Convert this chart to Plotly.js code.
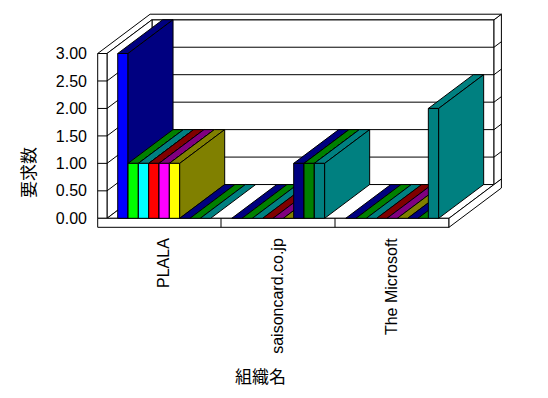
<!DOCTYPE html>
<html>
<head>
<meta charset="utf-8">
<script src="https://cdn.plot.ly/plotly-3.0.1.min.js"></script>
<style>html,body{margin:0;padding:0;background:#fff;}#chart{width:548px;height:398px;}</style>
</head>
<body>
<div id="chart"></div>
<script>
// ---- data ----
const categories = ["PLALA", "saisoncard.co.jp", "The Microsoft"];
const series1 = [3, 0, 0];
const series2 = [1, 0, 0];
const series3 = [1, 0, 0];
const series4 = [1, 0, 0];
const series5 = [1, 0, 0];
const series6 = [1, 0, 0];
const series7 = [0, 1, 0];
const series8 = [0, 1, 0];
const series9 = [0, 1, 2];
const yTickValues = [0, 0.5, 1, 1.5, 2, 2.5, 3];
const yTickLabels = ["0.00", "0.50", "1.00", "1.50", "2.00", "2.50", "3.00"];
const xTitle = "組織名";
const yTitle = "要求数";

const allSeries = [series1, series2, series3, series4, series5, series6, series7, series8, series9];

// ---- style ----
const frontColors = ["#0000FF", "#00FF00", "#00FFFF", "#FF0000", "#FF00FF", "#FFFF00", "#000080", "#008000", "#008080"];
const shadeColors = ["#000080", "#008000", "#008080", "#800000", "#800080", "#808000", "#000080", "#008000", "#008080"];

// ---- oblique projection (depth goes up-right) ----
const PXX = 114, PXY = 54.93;          // pixels per category / per value unit
const KX = 45 / PXX, KV = 33.75 / PXY;  // depth offsets in axis units
const TX = 9.3 / PXX;                   // left wall thickness
const TV = 9 / PXY;                     // floor slab thickness
const TD = 7.4 / 45;                    // back wall thickness (depth units)
const GAP = 0.094, BW = 0.0906;         // bar layout within a category
const NC = categories.length;
const VMAX = yTickValues[yTickValues.length - 1];

function P(X, V, D) { return [X + D * KX, V + D * KV]; }

const traces = [];
function poly(pts, fill) {
  const xs = pts.map(p => P(p[0], p[1], p[2])[0]);
  const ys = pts.map(p => P(p[0], p[1], p[2])[1]);
  xs.push(xs[0]); ys.push(ys[0]);
  traces.push({type: "scatter", mode: "lines", x: xs, y: ys, fill: "toself", fillcolor: fill,
    line: {color: "#000", width: 1}, hoverinfo: "skip", showlegend: false});
}
function seg(a, b) {
  const pa = P(a[0], a[1], a[2]), pb = P(b[0], b[1], b[2]);
  traces.push({type: "scatter", mode: "lines", x: [pa[0], pb[0]], y: [pa[1], pb[1]],
    line: {color: "#000", width: 1}, hoverinfo: "skip", showlegend: false});
}

// back wall front face
poly([[0, 0, 1], [NC, 0, 1], [NC, VMAX, 1], [0, VMAX, 1]], "#fff");
// back wall right face
poly([[NC, 0, 1], [NC, 0, 1 + TD], [NC, VMAX, 1 + TD], [NC, VMAX, 1]], "#fff");
// top faces of walls (L shape)
poly([[-TX, VMAX, 0], [0, VMAX, 0], [0, VMAX, 1], [NC, VMAX, 1], [NC, VMAX, 1 + TD], [-TX, VMAX, 1 + TD]], "#fff");
// left wall inner face
poly([[0, 0, 0], [0, 0, 1], [0, VMAX, 1], [0, VMAX, 0]], "#fff");
// left wall front face
poly([[-TX, 0, 0], [0, 0, 0], [0, VMAX, 0], [-TX, VMAX, 0]], "#fff");
// gridlines
yTickValues.forEach(v => {
  if (v <= 0 || v >= VMAX) return;
  seg([0, v, 1], [NC, v, 1]);
  seg([NC, v, 1], [NC, v, 1 + TD]);
  seg([0, v, 0], [0, v, 1]);
  seg([-TX, v, 0], [0, v, 0]);
});
// floor top
poly([[0, 0, 0], [NC, 0, 0], [NC, 0, 1], [0, 0, 1]], "#fff");
// floor slab front
poly([[-TX, -TV, 0], [NC, -TV, 0], [NC, 0, 0], [-TX, 0, 0]], "#fff");
// floor slab right face
poly([[NC, -TV, 0], [NC, -TV, 1 + TD], [NC, 0, 1 + TD], [NC, 0, 0]], "#fff");
// category ticks on the slab
for (let c = 1; c < NC; c++) seg([c, -TV, 0], [c, 0, 0]);

// bars, painted left to right
for (let c = 0; c < NC; c++) {
  allSeries.forEach((s, i) => {
    const v = s[c];
    const x0 = c + GAP + i * BW, x1 = x0 + BW;
    poly([[x0, v, 0], [x1, v, 0], [x1, v, 1], [x0, v, 1]], shadeColors[i]);
    if (v > 0) {
      poly([[x0, 0, 0], [x1, 0, 0], [x1, v, 0], [x0, v, 0]], frontColors[i]);
      poly([[x1, 0, 0], [x1, 0, 1], [x1, v, 1], [x1, v, 0]], shadeColors[i]);
    }
  });
}

const L = 96, R = 44, T = 12, B = 168;
const W = 548, H = 398;
const pw = W - L - R, ph = H - T - B;
const x0px = 107, y0px = 218.3;
const xr = [(L - x0px) / PXX, (L + pw - x0px) / PXX];
const yr = [(y0px - (T + ph)) / PXY, (y0px - T) / PXY];
function paperX(px) { return (px - L) / pw; }
function paperY(py) { return (T + ph - py) / ph; }

const numFont = {family: "Liberation Sans, Arial, sans-serif", size: 16, color: "#000"};
const cjkFont = {family: "Noto Sans CJK JP, sans-serif", size: 17, color: "#000"};

const layout = {
  width: W, height: H,
  margin: {l: L, r: R, t: T, b: B, pad: 0},
  paper_bgcolor: "#fff", plot_bgcolor: "#fff",
  showlegend: false,
  xaxis: {range: xr, tickvals: categories.map((_, i) => i + 0.5), ticktext: categories,
    tickangle: -90, showgrid: false, zeroline: false, showline: false, ticks: "",
    tickfont: numFont, fixedrange: true, ticklabelstandoff: 4},
  yaxis: {range: yr, tickvals: yTickValues, ticktext: yTickLabels,
    showgrid: false, zeroline: false, showline: false, ticks: "",
    tickfont: numFont, fixedrange: true, ticklabelstandoff: 8},
  annotations: [
    {text: yTitle, xref: "paper", yref: "paper", x: paperX(27), y: paperY(173),
      xanchor: "center", yanchor: "middle", textangle: -90, showarrow: false, font: cjkFont},
    {text: xTitle, xref: "paper", yref: "paper", x: paperX(260), y: paperY(375),
      xanchor: "center", yanchor: "middle", showarrow: false, font: cjkFont}
  ]
};

Plotly.newPlot("chart", traces, layout, {staticPlot: true, displayModeBar: false});
</script>
</body>
</html>
